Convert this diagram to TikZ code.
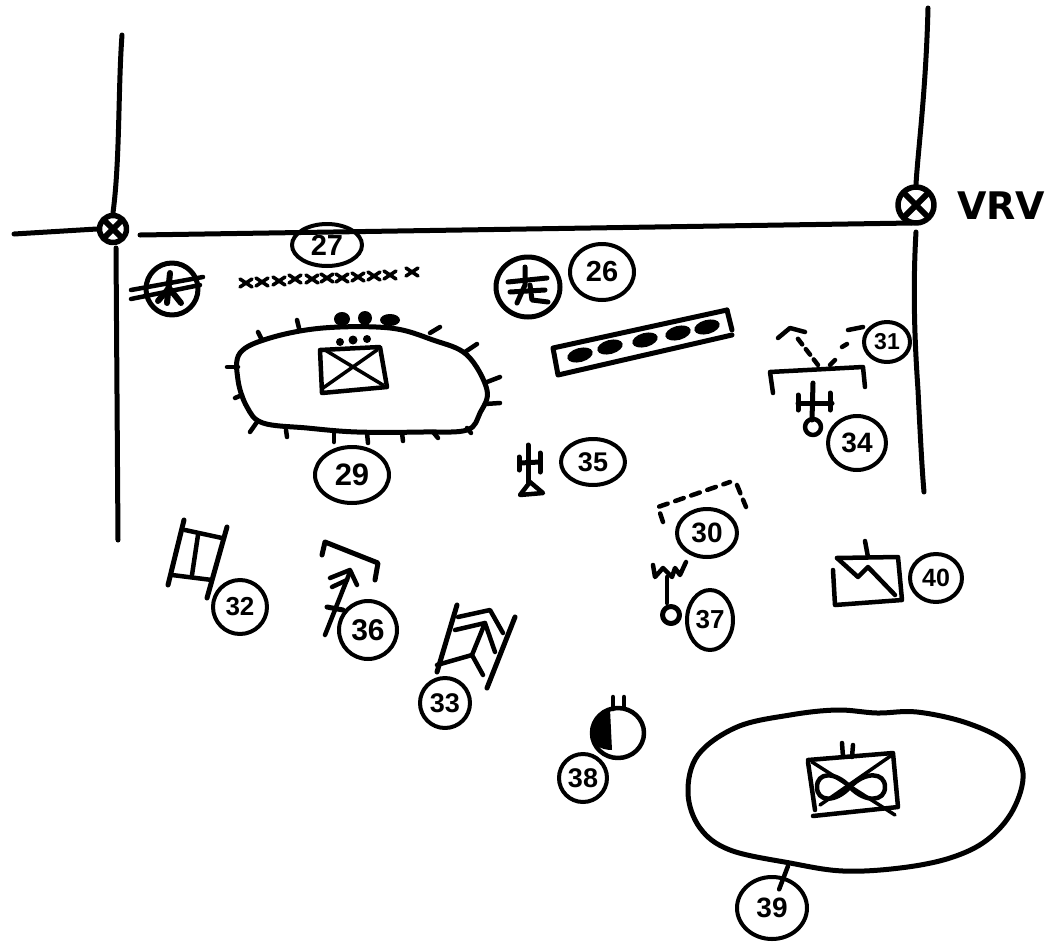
\documentclass[tikz,border=0pt]{standalone}
\usepackage{fontspec}
\setmainfont{Liberation Sans}
\newfontfamily\vrvfont{DejaVu Sans}
\usetikzlibrary{shapes.geometric}
\begin{document}
\begin{tikzpicture}[x=1pt,y=-1pt,line cap=round,line join=round,
    main/.style={line width=5pt},
    sym/.style={line width=4.5pt},
    thin sym/.style={line width=3.5pt},
    numb/.style={ellipse,draw,line width=4pt,inner sep=0pt,font=\bfseries\fontsize{#1}{#1}\selectfont},
    valve/.style={circle,draw,line width=5.5pt,minimum size=#1,inner sep=0pt,
      path picture={\draw[line width=6pt] (path picture bounding box.north west) -- (path picture bounding box.south east)
        (path picture bounding box.north east) -- (path picture bounding box.south west);}}]
  \useasboundingbox (0,0) rectangle (1053,951);
  % roads
  \node[valve=27pt] (vleft) at (113,229) {};
  \node[valve=36pt] (vright) at (916,205) {};
  \node[font=\vrvfont\bfseries\fontsize{38}{38}\selectfont,anchor=west,inner sep=0pt] (vrv) at (957,206) {VRV};
  \coordinate (la) at (122,35);
  \coordinate (lb) at (116,248);
  \coordinate (lc) at (118,540);
  \coordinate (ha) at (14,234);
  \coordinate (hb) at (140,235);
  \coordinate (hc) at (912,223);
  \coordinate (ra) at (928,8);
  \coordinate (rb) at (916,232);
  \coordinate (rc) at (924,492);
  \draw[main] (la) .. controls (118,90) and (120,160) .. (vleft.north);
  \draw[main] (lb) -- (lc);
  \draw[main] (ha) -- (vleft.west);
  \draw[main] (hb) -- (hc);
  \draw[main] (ra) .. controls (926,90) and (918,150) .. (vright.north);
  \draw[main] (rb) .. controls (912,300) and (916,360) .. (918,390) .. controls (920,430) and (922,470) .. (rc);
  % numbers
  \foreach \n/\x/\y/\w/\h/\s in {27/327/245/70/42/29, 26/602/272/64/56/29, 29/352/475/74/56/31,
      35/593/462/64/46/27, 31/887/342/46/40/23, 34/857/443/58/54/28, 30/707/533/60/48/28,
      37/710/620/46/60/26, 40/936/578/52/48/25, 32/240/607/54/54/26, 36/368/630/58/58/30,
      33/445/703/50/50/27, 38/583/778/48/48/27, 39/772/908/70/62/28} {
    \node[numb=\s,minimum width=\w pt,minimum height=\h pt] (n\n) at (\x,\y) {\n};
  }
  % strongpoint 29
  \draw[main] plot[smooth cycle,tension=0.6] coordinates {(240,353) (270,338) (323,328) (390,328) (433,340)
    (467,355) (487,390) (480,413) (467,430) (423,432) (357,432) (307,428) (263,423) (247,407) (238,380)};
  \foreach \xa/\ya/\xb/\yb in {258/332/262/340, 297/320/299/328, 440/327/430/333, 477/344/465/352,
      500/377/487/382, 500/403/485/404, 471/433/467/428, 438/438/433/432, 403/441/402/433,
      368/443/367/433, 334/442/334/433, 287/437/286/430, 250/432/257/422, 235/398/242/395, 227/367/238/367} {
    \draw[sym] (\xa,\ya) -- (\xb,\yb);
  }
  \fill (342,319) ellipse (8 and 7);
  \fill (365,318) ellipse (7 and 7);
  \fill (390,320) ellipse (10 and 6);
  \fill (340,342) circle (4);
  \fill (353,340) circle (4.5);
  \fill (367,339) circle (4);
  \draw[sym] (380,347) -- (387,387) -- (322,393) -- (320,350) -- cycle;
  \draw[thin sym] (325,350) -- (383,385);
  \draw[thin sym] (323,388) -- (377,350);
  % symbol left
  \draw[main] (172,289) ellipse (26 and 26);
  \draw[sym] (131,290) -- (203,277);
  \draw[sym] (131,299) -- (200,285);
  \draw[line width=6pt] (170,273) -- (167,303);
  \draw[line width=6pt] (169,288) -- (181,303);
  \draw[line width=6pt] (169,288) -- (158,301);
  % wire 27
  \foreach \x/\y in {246/283, 262/282, 279/281, 295/279, 312/279, 327/278, 342/278, 358/277, 374/276, 390/275, 412/272} {
    \draw[thin sym] (\x-6,\y-4) -- (\x+6,\y+4);
    \draw[thin sym] (\x-6,\y+4) -- (\x+6,\y-4);
  }
  % symbol 26
  \draw[main] (528,287) ellipse (32 and 30);
  \draw[main] (508,282) -- (547,278);
  \draw[main] (510,292) -- (545,290);
  \draw[main] (525,267) -- (525,285) -- (517,303);
  \draw[main] (530,285) -- (532,300) -- (548,302);
  % bar
  \draw[main] (727,310) -- (553,348) -- (558,375) -- (732,335);
  \draw[main] (727,310) -- (732,330);
  \foreach \x/\y in {580/355, 610/347, 645/340, 678/333, 707/327} {
    \fill[rotate around={15:(\x,\y)}] (\x,\y) ellipse (13 and 7);
  }
  % symbol 34 and 31
  \draw[sym] (773,393) -- (770,372) -- (863,367) -- (865,387);
  \draw[sym,dash pattern=on 7pt off 6pt] (818,365) -- (795,335);
  \draw[sym] (778,338) -- (790,328) -- (805,332);
  \draw[sym] (830,365) -- (835,360);
  \draw[sym] (842,347) -- (847,344);
  \draw[sym] (848,330) -- (863,327);
  \draw[main] (813,383) -- (812,420);
  \draw[main] (798,403) -- (832,403);
  \draw[main] (798,395) -- (798,410);
  \draw[main] (830,393) -- (830,410);
  \draw[sym] (813,427) circle (8);
  % symbol 35
  \draw[main] (528,445) -- (528,482);
  \draw[main] (519,457) -- (519,470);
  \draw[main] (540,453) -- (540,472);
  \draw[main] (520,463) -- (540,462);
  \draw[sym] (530,482) -- (520,495) -- (543,493) -- cycle;
  % symbol 30
  \draw[sym,dash pattern=on 9pt off 8pt] (663,522) -- (658,507) -- (730,482);
  \draw[sym,dash pattern=on 9pt off 7pt] (737,485) -- (746,507);
  % symbol 37
  \draw[sym] (653,565) -- (655,577) -- (663,568) -- (672,577) -- (675,568) -- (680,575) -- (686,562);
  \draw[sym] (667,577) -- (667,603);
  \draw[main] (671,615) circle (8.5);
  % symbol 40
  \draw[sym] (837,558) -- (898,557) -- (902,600) -- (835,605) -- (833,570);
  \draw[sym] (837,558) -- (858,577) -- (868,567) -- (895,595);
  \draw[sym] (865,541) -- (868,557);
  % symbol 32
  \draw[main] (184,520) -- (168,585);
  \draw[main] (227,527) -- (207,598);
  \draw[sym] (185,530) -- (222,538);
  \draw[sym] (172,575) -- (212,580);
  \draw[sym] (198,535) -- (192,575);
  % symbol 36
  \draw[main] (322,555) -- (325,542) -- (378,563) -- (375,580);
  \draw[sym] (325,635) -- (350,572);
  \draw[sym] (330,578) -- (350,570) -- (357,585);
  \draw[sym] (332,587) -- (347,580);
  \draw[main] (327,607) -- (343,610);
  % symbol 33
  \draw[main] (457,605) -- (437,672);
  \draw[main] (515,617) -- (487,688);
  \draw[sym] (458,617) -- (490,610) -- (503,633);
  \draw[sym] (455,630) -- (485,623) -- (472,655) -- (483,675);
  \draw[sym] (485,623) -- (495,652);
  \draw[sym] (437,665) -- (472,655);
  % symbol 38
  \fill (610,709) .. controls (598,712) and (591,722) .. (591,734) .. controls (591,744) and (600,750) .. (612,750) -- cycle;
  \draw[sym] (618,733) ellipse (26 and 25);
  \draw[sym] (613,697) -- (613,709);
  \draw[sym] (624,697) -- (624,708);
  % unit 39
  \draw[main] plot[smooth cycle,tension=0.6] coordinates {(688,793) (698,755) (737,727) (790,715) (837,710) (877,713)
    (917,712) (967,723) (1007,743) (1023,773) (1013,810) (987,840) (950,858) (900,868) (843,871) (790,863) (730,850) (700,828)};
  \coordinate (c39) at (788,866);
  \draw[sym,shorten >=20pt] (c39) -- (n39.center);
  \draw[sym] (808,762) -- (815,810);
  \draw[sym] (808,760) -- (893,753) -- (898,807) -- (813,816);
  \draw[thin sym] (812,762) -- (895,815);
  \draw[thin sym] (892,755) -- (820,805);
  \draw[sym] (850,787) .. controls (835,771) and (817,772) .. (817,787) .. controls (817,802) and (835,803) .. (850,787)
    .. controls (865,771) and (885,772) .. (885,787) .. controls (885,802) and (865,803) .. (850,787);
  \draw[sym] (842,743) -- (843,757);
  \draw[sym] (853,745) -- (852,757);
\end{tikzpicture}
\end{document}
